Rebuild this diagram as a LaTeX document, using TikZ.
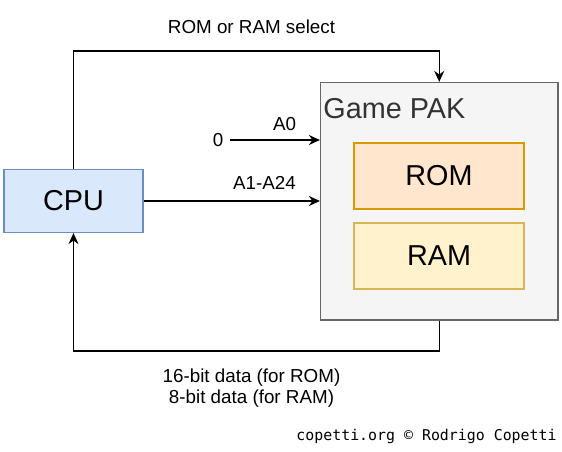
\documentclass[tikz,border=0pt]{standalone}
\usepackage{fontspec}
\setmainfont{Liberation Sans}
\newfontfamily\monofont{DejaVu Sans Mono}
\usetikzlibrary{arrows.meta}

\definecolor{cpufill}{HTML}{DAE8FC}
\definecolor{cpuline}{HTML}{6C8EBF}
\definecolor{pakfill}{HTML}{F5F5F5}
\definecolor{pakline}{HTML}{666666}
\definecolor{paktext}{HTML}{333333}
\definecolor{romfill}{HTML}{FFE6CC}
\definecolor{romline}{HTML}{D79B00}
\definecolor{ramfill}{HTML}{FFF2CC}
\definecolor{ramline}{HTML}{D6B656}

\begin{document}
\begin{tikzpicture}[x=0.5pt,y=-0.5pt,
  block/.style={draw, line width=0.6pt, inner sep=0pt, font=\fontsize{14.4}{17}\selectfont},
  chip/.style={block, minimum width=85pt, minimum height=33pt},
  bus/.style={line width=0.75pt, -{Stealth[length=5.5pt,width=5pt,inset=1.8pt]}},
  lbl/.style={font=\fontsize{9.4}{10.7}\selectfont}]

\useasboundingbox (0,0) rectangle (562,451);

% Blocks
\node[block, fill=cpufill, draw=cpuline, minimum width=69.5pt, minimum height=31.5pt] (cpu) at (73.5,201) {CPU};
\node[block, fill=pakfill, draw=pakline, minimum width=118.75pt, minimum height=118.75pt] (pak) at (439.25,201.25) {};
\node[font=\fontsize{14.4}{17}\selectfont, text=paktext, inner sep=0pt, anchor=west] (paklbl) at (323,109) {Game PAK};
\node[chip, fill=romfill, draw=romline] (rom) at (439,176) {ROM};
\node[chip, fill=ramfill, draw=ramline] (ram) at (439,256) {RAM};

% Select line
\coordinate (sel) at (0,51);
\draw[bus] (cpu.north) |- (sel -| pak.north) -- (pak.north);
\node[lbl] (sellbl) at (251.5,27) {ROM or RAM select};

% Address lines
\node[lbl] (zero) at (218,140) {0};
\draw[bus] (zero.east) -- (zero.east -| pak.west);
\node[lbl] (a0) at (284.5,124) {A0};
\draw[bus] (cpu.east) -- (cpu.east -| pak.west);
\node[lbl] (addr) at (264.5,183) {A1-A24};

% Data line
\coordinate (dat) at (0,351);
\draw[bus] (pak.south) -- (pak.south |- dat) -| (cpu.south);
\node[lbl, align=center] (datlbl) at (251.5,388) {16-bit data (for ROM)\\8-bit data (for RAM)};

\node[font=\monofont\fontsize{7.45}{9}\selectfont, inner sep=0pt, anchor=east] (credit) at (557,436) {copetti.org © Rodrigo Copetti};

\end{tikzpicture}
\end{document}
